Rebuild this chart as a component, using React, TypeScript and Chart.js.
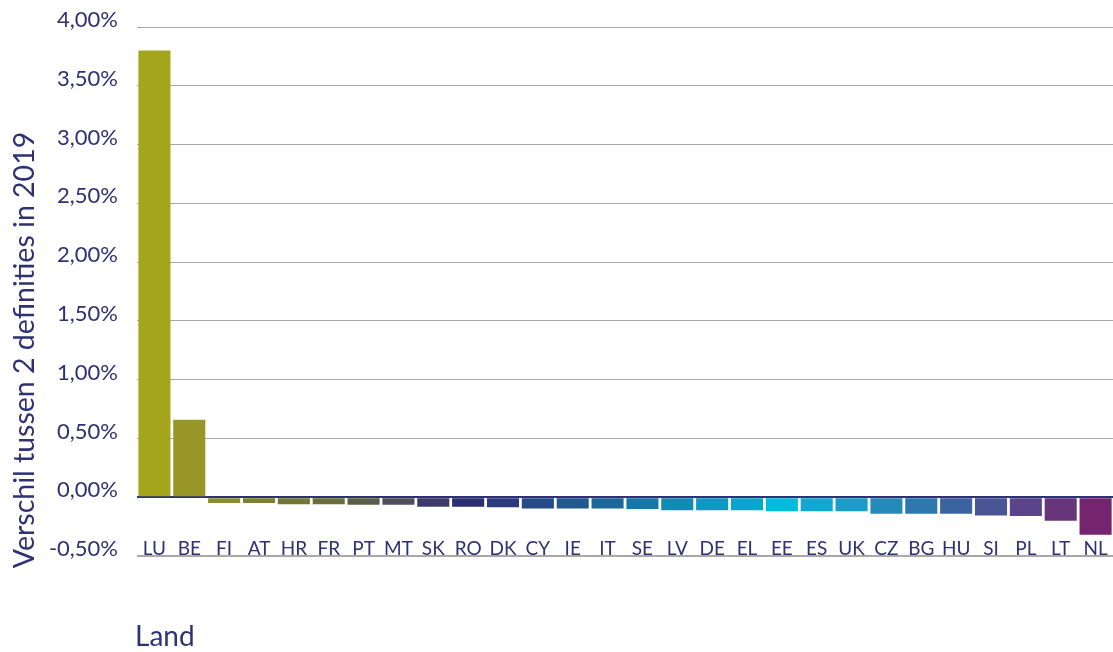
import React, { useEffect, useRef } from "react";
import { Chart, registerables } from "chart.js";

Chart.register(...registerables);

const categories = ["LU","BE","FI","AT","HR","FR","PT","MT","SK","RO","DK","CY","IE","IT","SE","LV","DE","EL","EE","ES","UK","CZ","BG","HU","SI","PL","LT","NL"];
const values = [3.80,0.66,-0.05,-0.05,-0.06,-0.06,-0.065,-0.065,-0.08,-0.08,-0.085,-0.095,-0.095,-0.095,-0.10,-0.11,-0.11,-0.11,-0.12,-0.12,-0.12,-0.14,-0.14,-0.14,-0.155,-0.16,-0.20,-0.32];
const barColors = ["#a3a51a","#979626","#8b8c30","#7f8035","#737539","#696b40","#5c5d48","#4f4f58","#3b3b68","#2c2e72","#2b3b7e","#254a88","#21598f","#1d6798","#1677a6","#118bb4","#0c98c0","#07a6cc","#00bcdc","#0ea9cf","#1b9dc8","#268abb","#2d78ae","#3a64a0","#4a5594","#5b458a","#66357a","#74256e"];
const yTicks = [-0.5, 0, 0.5, 1.0, 1.5, 2.0, 2.5, 3.0, 3.5, 4.0];
const yTitle = "Verschil tussen 2 definities in 2019";
const xTitle = "Land";

const NAVY = "#2e3174";
const GRID = "#a8a8a8";
const FONT = "Lato, 'Open Sans', sans-serif";

export default function App() {
  const ref = useRef<HTMLCanvasElement | null>(null);
  useEffect(() => {
    document.body.style.margin = "0";
    const canvas = ref.current;
    if (!canvas) return;
    const textPlugin = {
      id: "texts",
      beforeDatasetsDraw(chart: any) {
        // bottom grid line (-0,50%)
        const ctx = chart.ctx;
        const ys = chart.scales.y;
        const area = chart.chartArea;
        const y = Math.round(ys.getPixelForValue(yTicks[0])) - 0.5;
        ctx.save();
        ctx.strokeStyle = GRID;
        ctx.lineWidth = 1;
        ctx.beginPath();
        ctx.moveTo(area.left, y);
        ctx.lineTo(area.right, y);
        ctx.stroke();
        ctx.restore();
      },
      afterDraw(chart: any) {
        const ctx = chart.ctx;
        const xs = chart.scales.x;
        const ys = chart.scales.y;
        ctx.save();
        ctx.fillStyle = NAVY;
        ctx.font = `19px ${FONT}`;
        ctx.textAlign = "center";
        ctx.textBaseline = "middle";
        const labelY = ys.getPixelForValue(yTicks[0]) - 7;
        categories.forEach((c, i) => {
          ctx.fillText(c, xs.getPixelForTick(i), labelY);
        });
        ctx.font = `28px ${FONT}`;
        ctx.textAlign = "left";
        ctx.fillText(xTitle, 135, 637);
        ctx.translate(25, 350);
        ctx.rotate(-Math.PI / 2);
        ctx.textAlign = "center";
        ctx.font = `28.5px ${FONT}`;
        ctx.fillText(yTitle, 0, 0);
        ctx.restore();
      },
    };
    const chart = new Chart(canvas, {
      type: "bar",
      data: {
        labels: categories,
        datasets: [
          {
            data: values,
            backgroundColor: barColors,
            borderWidth: 0,
            barPercentage: 0.92,
            categoryPercentage: 1,
          },
        ],
      },
      options: {
        animation: false,
        responsive: false,
        maintainAspectRatio: false,
        layout: { padding: { top: 27, bottom: 95, left: 0, right: 0 } },
        plugins: { legend: { display: false }, tooltip: { enabled: false } },
        scales: {
          x: { display: false },
          y: {
            min: -0.5085,
            max: 4.0,
            afterFit: (scale: any) => {
              scale.width = 137;
              scale.paddingTop = 0;
              scale.paddingBottom = 0;
            },
            afterBuildTicks: (scale: any) => {
              scale.ticks = yTicks.map((v) => ({ value: v }));
            },
            border: { display: false },
            grid: {
              drawTicks: false,
              color: (c: any) => (c.tick && c.tick.value === 0 ? NAVY : GRID),
              lineWidth: (c: any) => (c.tick && c.tick.value === 0 ? 2 : 1),
            },
            ticks: {
              padding: 19,
              labelOffset: -7,
              color: NAVY,
              font: { family: FONT, size: 22 },
              callback: (v: any) => Number(v).toFixed(2).replace(".", ",") + "%",
            },
          },
        },
      },
      plugins: [textPlugin],
    });
    return () => chart.destroy();
  }, []);
  return (
    <div style={{ width: 1113, height: 652 }}>
      <canvas ref={ref} width={1113} height={652} style={{ display: "block" }} />
    </div>
  );
}
